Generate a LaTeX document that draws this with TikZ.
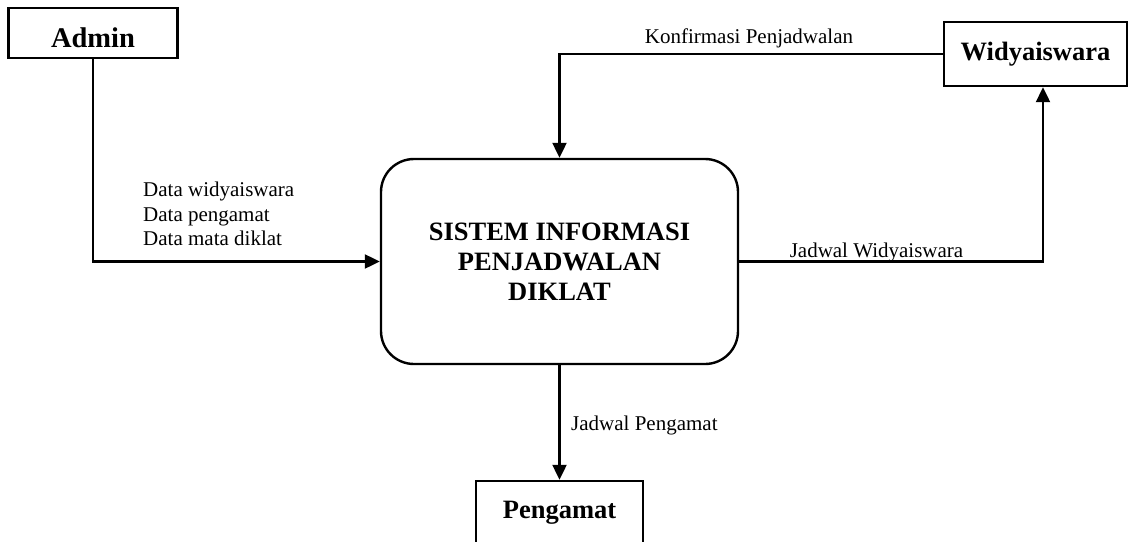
\documentclass[tikz,border=0pt]{standalone}
\usepackage{fontspec}
\setmainfont{Liberation Serif}
\usetikzlibrary{arrows.meta,calc}
\tikzset{
  ent/.style={draw, line width=2.4pt, inner sep=0pt, font=\fontsize{26.5}{30}\selectfont\bfseries},
  procbox/.style={draw, line width=2.4pt, rounded corners=33pt, minimum width=357pt, minimum height=205pt, align=center, font=\fontsize{26.5}{30}\selectfont\bfseries},
  flow/.style={line width=2.2pt, -{Triangle[length=15pt,width=14pt]}},
  flowlabel/.style={font=\fontsize{21}{24.5}\selectfont, inner sep=0pt},
}
\begin{document}
\begin{tikzpicture}[x=1pt,y=-1pt]
\useasboundingbox (0,0) rectangle (1129,541);
\node[ent, minimum width=169pt, minimum height=50pt, text height=28pt, text depth=0pt, font=\fontsize{28.5}{32}\selectfont\bfseries] (admin) at (93,33) {Admin};
\node[ent, minimum width=183pt, minimum height=64pt] (wid) at (1035.5,54) {Widyaiswara};
\node[procbox] (proc) at (559.5,261.5) {SISTEM INFORMASI\\PENJADWALAN\\DIKLAT};
\node[ent, minimum width=167pt, minimum height=64pt] (peng) at (559.5,513) {Pengamat};

\draw[flow] (admin.south) |- (proc.west);
\draw[flow] (wid.west) -| (proc.north);
\draw[flow] (proc.east) -| ($(wid.south)+(7.5,0)$);
\draw[flow] (proc.south) -- (peng.north);

\node[flowlabel, anchor=west, align=left] (ldata) at (143,214) {Data widyaiswara\\Data pengamat\\Data mata diklat};
\node[flowlabel, anchor=base] (lkonf) at (749,43) {Konfirmasi Penjadwalan};
\node[flowlabel, anchor=base] (ljw) at (876.5,257) {Jadwal Widyaiswara};
\node[flowlabel, anchor=base west] (ljp) at (571,430) {Jadwal Pengamat};
\end{tikzpicture}
\end{document}
